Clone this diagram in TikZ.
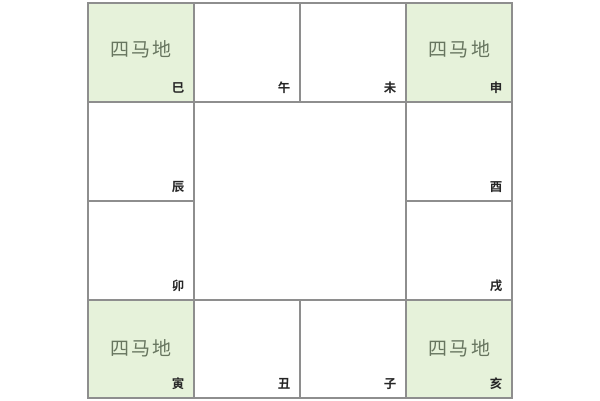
\documentclass[tikz,border=0pt]{standalone}
\usepackage{fontspec}
\newfontfamily\cjk{Noto Sans CJK SC}
\newfontfamily\cjkb{Noto Sans CJK SC Bold}
\definecolor{gridline}{HTML}{8E8E8E}
\definecolor{mafill}{HTML}{E6F2DA}
\definecolor{matext}{HTML}{67755F}
\begin{document}
\begin{tikzpicture}[x=1pt,y=-1pt,
  cellbox/.style={draw=gridline,line width=1.4pt},
  greencell/.style={cellbox,fill=mafill},
  branch/.style={font=\cjkb\fontsize{12.5}{12.5}\selectfont,text=black!85,inner sep=0pt},
  matag/.style={font=\cjk\fontsize{19}{19}\selectfont,text=matext,inner sep=0pt}]
\useasboundingbox (0,0) rectangle (600,400);
% columns 88,194,300,406,512 ; rows 3,102,201,300,398
% top row
\draw[greencell] (88,3) rectangle (194,102);
\draw[cellbox] (194,3) rectangle (300,102);
\draw[cellbox] (300,3) rectangle (406,102);
\draw[greencell] (406,3) rectangle (512,102);
% left column
\draw[cellbox] (88,102) rectangle (194,201);
\draw[cellbox] (88,201) rectangle (194,300);
% right column
\draw[cellbox] (406,102) rectangle (512,201);
\draw[cellbox] (406,201) rectangle (512,300);
% bottom row
\draw[greencell] (88,300) rectangle (194,398);
\draw[cellbox] (194,300) rectangle (300,398);
\draw[cellbox] (300,300) rectangle (406,398);
\draw[greencell] (406,300) rectangle (512,398);
% four horse labels
\node[matag] (m1) at (141,49) {四\hspace{2.5pt}马\hspace{2.5pt}地};
\node[matag] (m2) at (459,49) {四\hspace{2.5pt}马\hspace{2.5pt}地};
\node[matag] (m3) at (141,348) {四\hspace{2.5pt}马\hspace{2.5pt}地};
\node[matag] (m4) at (459,348) {四\hspace{2.5pt}马\hspace{2.5pt}地};
% branches
\node[branch] (si) at (178,88) {巳};
\node[branch] (wu) at (284,88) {午};
\node[branch] (wei) at (390,88) {未};
\node[branch] (shen) at (496,88) {申};
\node[branch] (chen) at (178,187) {辰};
\node[branch] (you) at (496,187) {酉};
\node[branch] (mao) at (178,286) {卯};
\node[branch] (xu) at (496,286) {戌};
\node[branch] (yin) at (178,384) {寅};
\node[branch] (chou) at (284,384) {丑};
\node[branch] (zi) at (390,384) {子};
\node[branch] (hai) at (496,384) {亥};
\end{tikzpicture}
\end{document}
